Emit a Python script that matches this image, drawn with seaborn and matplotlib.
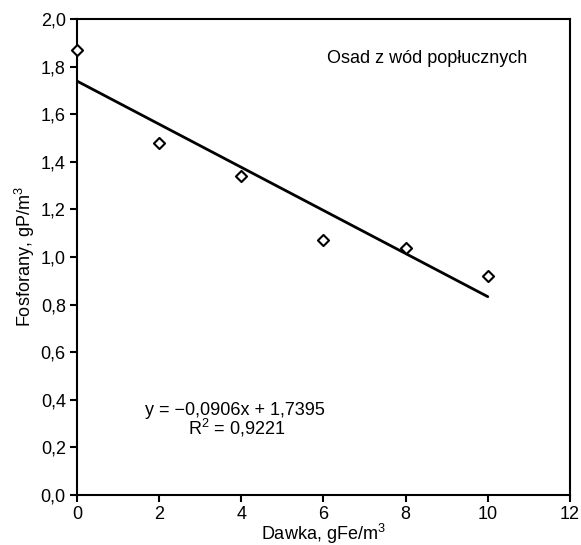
import matplotlib
matplotlib.use("Agg")
import matplotlib.pyplot as plt
import numpy as np
import seaborn as sns
import pandas as pd

# dose vs phosphate readings
dawka = [0, 2, 4, 6, 8, 10]
fosforany = [1.87, 1.48, 1.34, 1.07, 1.04, 0.92]

# trend line from the fit shown on the chart
slope = -0.0906
intercept = 1.7395
r2 = 0.9221

x_ticks = [0, 2, 4, 6, 8, 10, 12]
y_ticks = [0.0, 0.2, 0.4, 0.6, 0.8, 1.0, 1.2, 1.4, 1.6, 1.8, 2.0]
y_tick_labels = [f"{v:.1f}".replace(".", ",") for v in y_ticks]

df = pd.DataFrame({"Dawka": dawka, "Fosforany": fosforany})
df["trend"] = intercept + slope * df["Dawka"]

sns.set_style("ticks")
plt.rcParams["font.family"] = ["Liberation Sans", "DejaVu Sans"]
plt.rcParams["mathtext.fontset"] = "custom"
plt.rcParams["mathtext.rm"] = "Liberation Sans"
plt.rcParams["mathtext.default"] = "rm"
plt.rcParams["text.color"] = "black"
plt.rcParams["axes.labelcolor"] = "black"

fs = 13

fig = plt.figure(figsize=(5.81, 5.45), dpi=100)
ax = fig.add_axes([0.1325, 0.0917, 0.8485, 0.8733])

sns.lineplot(data=df, x="Dawka", y="trend", color="black", linewidth=2, ax=ax)
sns.scatterplot(data=df, x="Dawka", y="Fosforany", marker="D", s=32,
                facecolor="white", edgecolor="black", linewidth=1.5,
                zorder=3, clip_on=False, ax=ax)

ax.set_xlim(0, 12)
ax.set_ylim(0, 2.0)
ax.set_xticks(x_ticks)
ax.set_yticks(y_ticks)
ax.set_yticklabels(y_tick_labels)
ax.tick_params(axis="both", direction="out", length=5, width=1.5,
               labelsize=fs, colors="black", pad=3)
for sp in ax.spines.values():
    sp.set_linewidth(1.5)
    sp.set_color("black")

ax.set_xlabel("Dawka, gFe/m$^3$", fontsize=fs, labelpad=-1)
ax.set_ylabel("Fosforany, gP/m$^3$", fontsize=fs, labelpad=3)

ax.text(6.09, 1.836, "Osad z wód popłucznych", fontsize=fs, va="center")
ax.text(1.66, 0.357, "y = \u22120,0906x + 1,7395", fontsize=fs,
        ha="left", va="center")
ax.text(2.70, 0.282, "R$^2$ = " + f"{r2:.4f}".replace(".", ","), fontsize=fs,
        ha="left", va="center")

fig.savefig("out.png", dpi=100)
